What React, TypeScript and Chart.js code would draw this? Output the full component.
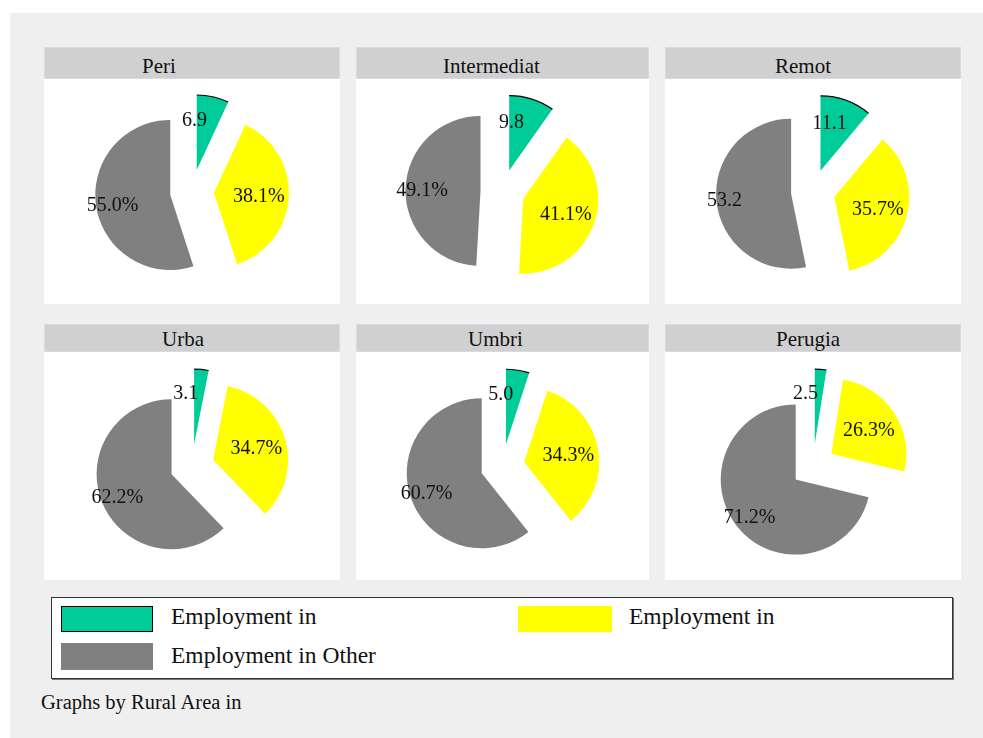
import React, { useEffect, useRef } from "react";
import { Chart, registerables } from "chart.js";

Chart.register(...registerables);

// ---------- data ----------
const regions = ["Peri", "Intermediat", "Remot", "Urba", "Umbri", "Perugia"];
const sectorNames = ["Employment in", "Employment in", "Employment in Other"];
const greenShare = [6.9, 9.8, 11.1, 3.1, 5.0, 2.5];
const yellowShare = [38.1, 41.1, 35.7, 34.7, 34.3, 26.3];
const greyShare = [55.0, 49.1, 53.2, 62.2, 60.7, 71.2];
const greenLabels = ["6.9", "9.8", "11.1", "3.1", "5.0", "2.5"];
const yellowLabels = ["38.1%", "41.1%", "35.7%", "34.7%", "34.3%", "26.3%"];
const greyLabels = ["55.0%", "49.1%", "53.2", "62.2%", "60.7%", "71.2%"];
const footnote = "Graphs by Rural Area in";

// ---------- styling / layout ----------
const COLORS = ["#00CC99", "#FFFF00", "#808080"];
const FONT = "'Liberation Serif', 'Times New Roman', serif";
const PANEL_X: [number, number][] = [
  [44, 340],
  [356, 649],
  [665, 961],
];
const ROWS = [
  { hTop: 47, hBot: 79, bot: 304, base: 74 },
  { hTop: 324, hBot: 352, bot: 580, base: 346.5 },
];
const TITLE_LEFT = [98, 87, 110, 118, 112, 111];
const EXPLODE = 22;
const RADIUS = 75;
const LABEL_FRAC = [0.69, 0.6, 0.78];

function PiePanel({ idx, width, height }: { idx: number; width: number; height: number }) {
  const ref = useRef<HTMLCanvasElement>(null);
  useEffect(() => {
    if (!ref.current) return;
    const values = [greenShare[idx], yellowShare[idx], greyShare[idx]];
    const labels = [greenLabels[idx], yellowLabels[idx], greyLabels[idx]];
    const explode = {
      id: "explode",
      // draw each library arc element shifted outward along its mid-angle
      beforeDatasetDraw(chart: any, args: any) {
        const ctx = chart.ctx as CanvasRenderingContext2D;
        args.meta.data.forEach((arc: any) => {
          const mid = (arc.startAngle + arc.endAngle) / 2;
          ctx.save();
          ctx.translate(Math.cos(mid) * EXPLODE, Math.sin(mid) * EXPLODE);
          arc.draw(ctx, chart.chartArea);
          ctx.restore();
        });
        return false;
      },
      afterDatasetsDraw(chart: any) {
        const ctx = chart.ctx as CanvasRenderingContext2D;
        const meta = chart.getDatasetMeta(0);
        ctx.save();
        const a0 = meta.data[0];
        if (a0) {
          const mid = (a0.startAngle + a0.endAngle) / 2;
          const cx = a0.x + Math.cos(mid) * EXPLODE;
          const cy = a0.y + Math.sin(mid) * EXPLODE;
          ctx.beginPath();
          ctx.arc(cx, cy, a0.outerRadius, a0.startAngle, a0.endAngle);
          ctx.strokeStyle = "#000";
          ctx.lineWidth = 1.2;
          ctx.stroke();
        }
        ctx.font = `20px ${FONT}`;
        ctx.fillStyle = "#111";
        ctx.textAlign = "left";
        ctx.textBaseline = "alphabetic";
        const w = ctx.measureText("00.0%").width;
        meta.data.forEach((arc: any, i: number) => {
          const mid = (arc.startAngle + arc.endAngle) / 2;
          const d = EXPLODE + LABEL_FRAC[i] * arc.outerRadius;
          const lx = arc.x + Math.cos(mid) * d;
          const ly = arc.y + Math.sin(mid) * d;
          ctx.fillText(labels[i], lx - w / 2, ly + 6.8);
        });
        ctx.restore();
      },
    };
    const chart = new Chart(ref.current, {
      type: "pie",
      data: {
        labels: sectorNames,
        datasets: [
          {
            data: values,
            backgroundColor: COLORS,
            borderWidth: 0,
            offset: 0,
          } as any,
        ],
      },
      options: {
        animation: false,
        responsive: false,
        maintainAspectRatio: false,
        devicePixelRatio: 1,
        radius: RADIUS,
        layout: { padding: 0 },
        events: [],
        plugins: {
          legend: { display: false },
          tooltip: { enabled: false },
          title: { display: false },
        },
      } as any,
      plugins: [explode],
    });
    return () => chart.destroy();
  }, [idx, width, height]);
  return <canvas ref={ref} width={width} height={height} style={{ width, height, display: "block" }} />;
}

export default function App() {
  const panels: React.ReactNode[] = [];
  regions.forEach((name, i) => {
    const row = ROWS[Math.floor(i / 3)];
    const [x0, x1] = PANEL_X[i % 3];
    const w = x1 - x0;
    panels.push(
      <div key={"h" + i}>
        <div
          style={{
            position: "absolute",
            left: x0,
            top: row.hTop,
            width: w,
            height: row.hBot - row.hTop,
            background: "#D0D0D0",
            boxSizing: "border-box",
            border: "1px solid #D8D8E6",
          }}
        />
        <div
          style={{
            position: "absolute",
            left: x0 + TITLE_LEFT[i],
            top: row.base - 17.6,
            font: `21px ${FONT}`,
            lineHeight: "21px",
            color: "#111",
            whiteSpace: "nowrap",
          }}
        >
          {name}
        </div>
        <div
          style={{
            position: "absolute",
            left: x0,
            top: row.hBot,
            width: w,
            height: row.bot - row.hBot,
            background: "#FFFFFF",
          }}
        >
          <PiePanel idx={i} width={w} height={row.bot - row.hBot} />
        </div>
      </div>
    );
  });

  const legendText = (left: number, top: number, text: string) => (
    <div
      style={{
        position: "absolute",
        left,
        top,
        font: `23.5px ${FONT}`,
        lineHeight: "23.5px",
        color: "#111",
        whiteSpace: "nowrap",
      }}
    >
      {text}
    </div>
  );

  return (
    <div style={{ position: "absolute", left: 0, top: 0, width: 983, height: 738, background: "#FFFFFF" }}>
      <div style={{ position: "absolute", left: 10, top: 13, width: 973, height: 725, background: "#EFEFEF" }} />
      {panels}
      <div
        style={{
          position: "absolute",
          left: 51,
          top: 597,
          width: 902,
          height: 82,
          background: "#FFFFFF",
          boxSizing: "border-box",
          border: "1px solid #333",
          boxShadow: "1px 1px 0 #777",
        }}
      />
      <div
        style={{
          position: "absolute",
          left: 61,
          top: 606,
          width: 92,
          height: 26,
          background: COLORS[0],
          boxSizing: "border-box",
          border: "1px solid #000",
        }}
      />
      <div style={{ position: "absolute", left: 518, top: 606, width: 94, height: 26, background: COLORS[1] }} />
      <div style={{ position: "absolute", left: 61, top: 643, width: 92, height: 27, background: COLORS[2] }} />
      {legendText(171, 605.3, sectorNames[0])}
      {legendText(629, 605.3, sectorNames[1])}
      {legendText(171, 643.6, sectorNames[2])}
      <div
        style={{
          position: "absolute",
          left: 41,
          top: 692.2,
          font: `20.5px ${FONT}`,
          lineHeight: "20.5px",
          color: "#111",
          whiteSpace: "nowrap",
        }}
      >
        {footnote}
      </div>
    </div>
  );
}
